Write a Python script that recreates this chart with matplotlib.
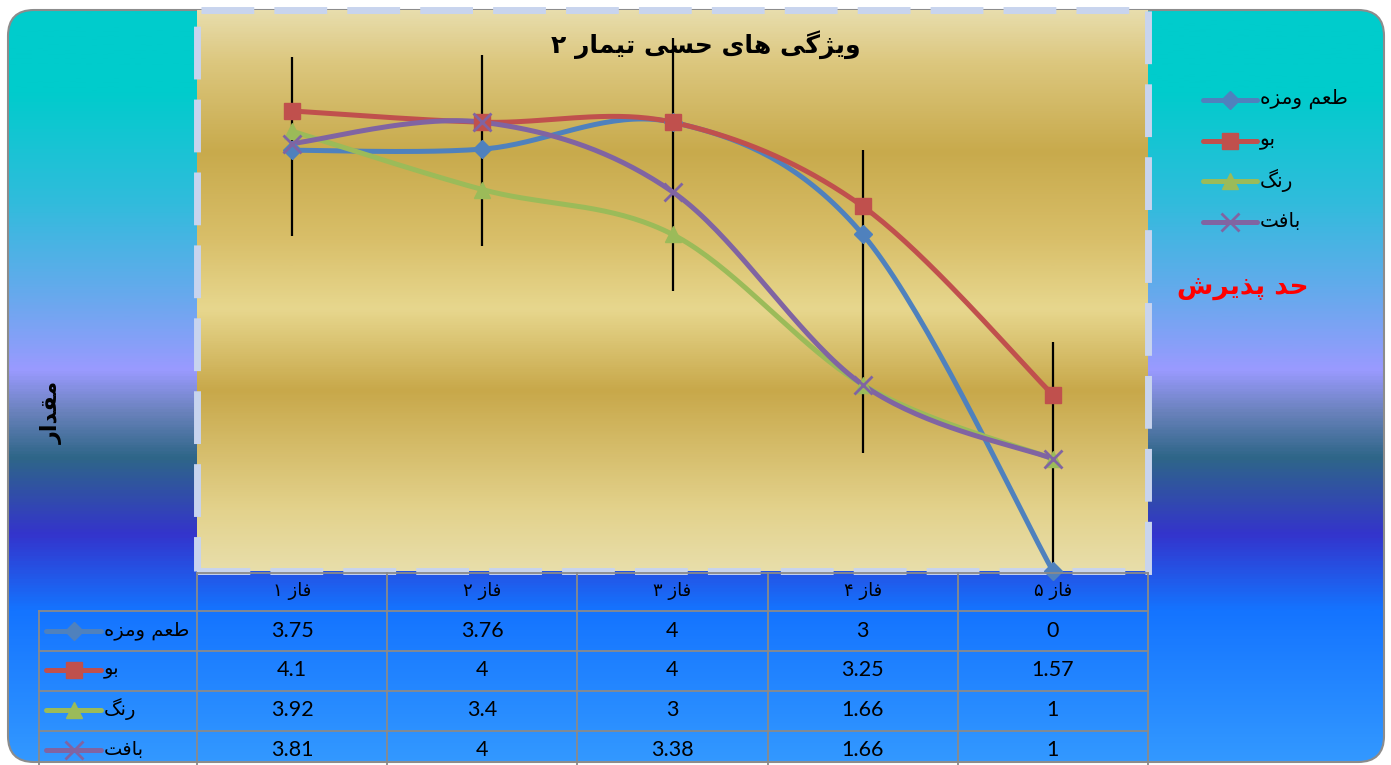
import numpy as np
import matplotlib
matplotlib.use("Agg")
import matplotlib.pyplot as plt
from matplotlib.colors import LinearSegmentedColormap
from matplotlib.patches import FancyBboxPatch, Rectangle
from matplotlib.lines import Line2D
from matplotlib import transforms

# ---------------- data ----------------
phases = ["فاز ۱", "فاز ۲", "فاز ۳", "فاز ۴", "فاز ۵"]
series_names = ["طعم ومزه", "بو", "رنگ", "بافت"]
taste = [3.75, 3.76, 4, 3, 0]
odor = [4.1, 4, 4, 3.25, 1.57]
color_vals = [3.92, 3.4, 3, 1.66, 1]
texture = [3.81, 4, 3.38, 1.66, 1]
err_low = [2.99, 2.90, 2.50, 1.05, 0.0]
err_high = [4.58, 4.60, 4.75, 3.75, 2.04]

title_text = "ویژگی های حسی تیمار ۲"
ylabel_text = "مقدار"
note_text = "حد پذیرش"

series_colors = ["#4F81BD", "#C0504D", "#9BBB59", "#8064A2"]
series_markers = ["D", "s", "^", "x"]
marker_sizes = [9.5, 11, 11, 12.5]

# ---------------- Arabic-script shaping (presentation forms) ----------------
DUAL = {
    'ب': (0xFE8F, 0xFE90, 0xFE91, 0xFE92),
    'پ': (0xFB56, 0xFB57, 0xFB58, 0xFB59),
    'ت': (0xFE95, 0xFE96, 0xFE97, 0xFE98),
    'ح': (0xFEA1, 0xFEA2, 0xFEA3, 0xFEA4),
    'س': (0xFEB1, 0xFEB2, 0xFEB3, 0xFEB4),
    'ش': (0xFEB5, 0xFEB6, 0xFEB7, 0xFEB8),
    'ط': (0xFEC1, 0xFEC2, 0xFEC3, 0xFEC4),
    'ع': (0xFEC9, 0xFECA, 0xFECB, 0xFECC),
    'ف': (0xFED1, 0xFED2, 0xFED3, 0xFED4),
    'ق': (0xFED5, 0xFED6, 0xFED7, 0xFED8),
    'گ': (0xFB92, 0xFB93, 0xFB94, 0xFB95),
    'م': (0xFEE1, 0xFEE2, 0xFEE3, 0xFEE4),
    'ن': (0xFEE5, 0xFEE6, 0xFEE7, 0xFEE8),
    'ه': (0xFEE9, 0xFEEA, 0xFEEB, 0xFEEC),
    'ی': (0xFBFC, 0xFBFD, 0xFBFE, 0xFBFF),
}
RIGHT = {
    'ا': (0xFE8D, 0xFE8E),
    'د': (0xFEA9, 0xFEAA),
    'ذ': (0xFEAB, 0xFEAC),
    'ر': (0xFEAD, 0xFEAE),
    'ز': (0xFEAF, 0xFEB0),
    'ژ': (0xFB8A, 0xFB8B),
    'و': (0xFEED, 0xFEEE),
}


def rtl(s):
    """Pick contextual letter forms and lay the text out right-to-left."""
    out = []
    n = len(s)
    for i, c in enumerate(s):
        if c not in DUAL and c not in RIGHT:
            out.append(c)
            continue
        prev = s[i - 1] if i > 0 else ''
        nxt = s[i + 1] if i < n - 1 else ''
        jp = prev in DUAL
        jn = c in DUAL and (nxt in DUAL or nxt in RIGHT)
        if c in RIGHT:
            out.append(chr(RIGHT[c][1] if jp else RIGHT[c][0]))
        else:
            f = DUAL[c]
            if jp and jn:
                out.append(chr(f[3]))
            elif jp:
                out.append(chr(f[1]))
            elif jn:
                out.append(chr(f[2]))
            else:
                out.append(chr(f[0]))
    return ''.join(reversed(out))


def smooth(xs, ys, n=40):
    """Bezier smoothing through every point (spreadsheet-style smoothed line)."""
    P = np.column_stack([xs, ys]).astype(float)
    Pe = np.vstack([P[0], P, P[-1]])
    t = np.linspace(0, 1, n)[:, None]
    segs = []
    for i in range(len(P) - 1):
        p0, p1, p2, p3 = Pe[i], Pe[i + 1], Pe[i + 2], Pe[i + 3]
        c1 = p1 + (p2 - p0) / 6
        c2 = p2 - (p3 - p1) / 6
        seg = ((1 - t) ** 3) * p1 + 3 * ((1 - t) ** 2) * t * c1 + 3 * (1 - t) * t ** 2 * c2 + t ** 3 * p2
        segs.append(seg if i == 0 else seg[1:])
    return np.vstack(segs)


AR = ['DejaVu Sans']
NUM = ['Lato', 'DejaVu Sans']

W, H = 1391, 765
fig = plt.figure(figsize=(W / 100, H / 100), dpi=100)
fig.patch.set_facecolor("white")


def fx(x):
    return x / W


def fy(y):
    return 1 - y / H


# ---------------- outer rounded background ----------------
bg = fig.add_axes([0, 0, 1, 1], zorder=0)
bg.set_xlim(0, W)
bg.set_ylim(H, 0)
bg.axis('off')
bg_stops = [(0, "#00CCCC"), (90, "#00CCCC"), (200, "#30BCDC"), (300, "#6AA8EE"),
            (370, "#9A9AFF"), (412, "#6A82BC"), (458, "#2E6688"), (535, "#3434CC"),
            (612, "#1474FF"), (765, "#3399FF")]
cmap_bg = LinearSegmentedColormap.from_list("bg", [(p / H, c) for p, c in bg_stops])
grad = np.linspace(0, 1, 600)[:, None]
im = bg.imshow(grad, cmap=cmap_bg, extent=(0, W, H, 0), aspect='auto', vmin=0, vmax=1)
frame = FancyBboxPatch((8, 10), 1376, 752, boxstyle="round,pad=0,rounding_size=26",
                       facecolor='none', edgecolor='#8C8C8C', linewidth=1.5)
bg.add_patch(frame)
im.set_clip_path(frame)

# ---------------- plot area ----------------
ax = fig.add_axes([fx(197), fy(571), fx(1148) - fx(197), fy(10) - fy(571)], zorder=1)
ax.set_xlim(-0.5, 4.5)
ax.set_ylim(0, 5)
ax.axis('off')
gold_stops = [(10, "#E8DEAA"), (70, "#E3D28C"), (190, "#C8A84A"), (272, "#E7D78E"),
              (345, "#D8BE68"), (430, "#C8AA4C"), (520, "#DCC77E"), (571, "#E8DDAC")]
cmap_gold = LinearSegmentedColormap.from_list(
    "gold", [((p - 10) / 561, c) for p, c in gold_stops])
ax.imshow(np.linspace(0, 1, 600)[:, None], cmap=cmap_gold, extent=(-0.5, 4.5, 5, 0),
          aspect='auto', zorder=0, vmin=0, vmax=1)
ax.set_ylim(0, 5)
border = Rectangle((-0.5, 0), 5, 5, fill=False, edgecolor="#C8D4EE", linewidth=5,
                   linestyle=(0, (7.6, 2.9)), clip_on=False, zorder=0.5)
ax.add_patch(border)

x = np.arange(len(phases))
ax.vlines(x, err_low, err_high, color='black', linewidth=1.6, zorder=1.5, clip_on=False)

all_series = [taste, odor, color_vals, texture]
for vals, c, m, ms in zip(all_series, series_colors, series_markers, marker_sizes):
    curve = smooth(x, vals)
    ax.plot(curve[:, 0], curve[:, 1], color=c, linewidth=3.6, zorder=2,
            solid_capstyle='round', clip_on=False)
    ax.plot(x, vals, linestyle='none', marker=m, markersize=ms, color=c,
            markeredgecolor=c, markeredgewidth=2 if m == 'x' else 1, zorder=3, clip_on=False)

# ---------------- data table ----------------
tb = transforms.blended_transform_factory(ax.transData, fig.transFigure)
left_edge = -0.5 - (197 - 39) / (951 / 5)
grid_c = "#8A8A8A"
for yy in [573, 611, 651, 691, 731]:
    x0 = -0.5 if yy == 573 else left_edge
    ax.plot([x0, 4.5], [fy(yy), fy(yy)], transform=tb, color=grid_c, lw=1.3,
            clip_on=False, zorder=4)
for xx in np.arange(-0.5, 5, 1.0):
    ax.plot([xx, xx], [fy(573), fy(H + 5)], transform=tb, color=grid_c, lw=1.3,
            clip_on=False, zorder=4)
ax.plot([left_edge, left_edge], [fy(611), fy(H + 5)], transform=tb, color=grid_c,
        lw=1.3, clip_on=False, zorder=4)

for i, p in enumerate(phases):
    ax.text(i, fy(591), rtl(p), transform=tb, ha='center', va='center',
            fontsize=13, family=AR, color='black', zorder=5)

row_y = [631, 670, 710, 750]
for r, vals in enumerate(all_series):
    for i, v in enumerate(vals):
        ax.text(i, fy(row_y[r]), f"{v:g}", transform=tb, ha='center', va='center',
                fontsize=15.5, family=NUM, color='black', zorder=5)


def key(xl, xr, y, c, m, ms):
    fig.add_artist(Line2D([fx(xl), fx(xr)], [fy(y), fy(y)], color=c, lw=3.6,
                          solid_capstyle='round', zorder=6))
    fig.add_artist(Line2D([fx((xl + xr) / 2)], [fy(y)], marker=m, markersize=ms,
                          color=c, markeredgecolor=c,
                          markeredgewidth=2 if m == 'x' else 1, linestyle='none', zorder=7))


for r, name in enumerate(series_names):
    key(46, 101, row_y[r], series_colors[r], series_markers[r], marker_sizes[r])
    fig.text(fx(104), fy(row_y[r] - 1), rtl(name), ha='left', va='center',
             fontsize=14, family=AR, color='black', zorder=8)

# ---------------- legend ----------------
leg_y = [100, 141, 181, 222]
for r, name in enumerate(series_names):
    key(1203, 1257, leg_y[r], series_colors[r], series_markers[r], marker_sizes[r])
    fig.text(fx(1260), fy(leg_y[r] - 1), rtl(name), ha='left', va='center',
             fontsize=14.5, family=AR, color='black', zorder=8)

# ---------------- titles ----------------
fig.text(fx(706), fy(45), rtl(title_text), ha='center', va='center', fontsize=18,
         fontweight='bold', family=AR, color='black', zorder=8)
fig.text(fx(1243), fy(288), rtl(note_text), ha='center', va='center', fontsize=19,
         fontweight='bold', family=AR, color='#FF0000', zorder=8)
fig.text(fx(52), fy(412), rtl(ylabel_text), ha='center', va='center', fontsize=16,
         fontweight='bold', family=AR, color='black', rotation=90, zorder=8)

fig.savefig("out.png", dpi=100, facecolor="white")
